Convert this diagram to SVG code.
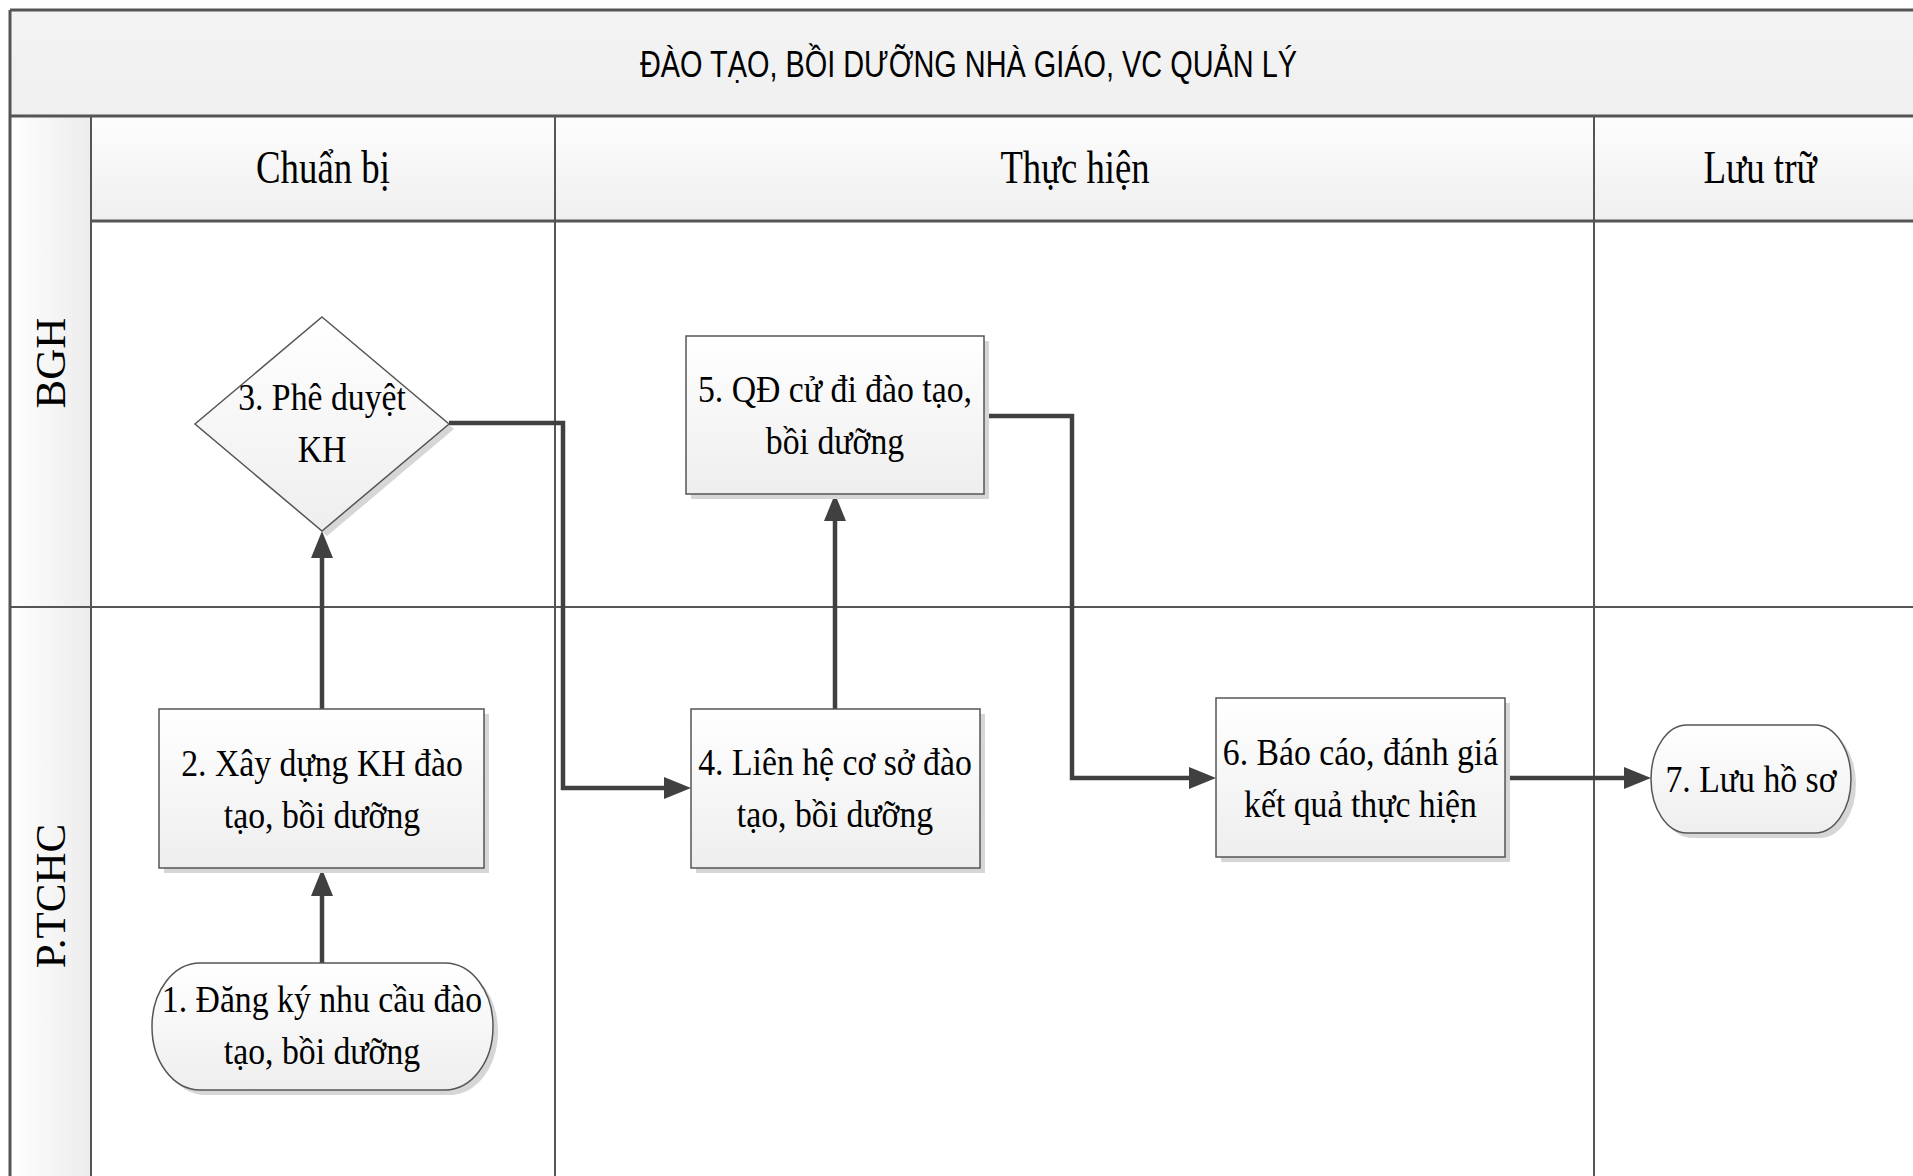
<svg xmlns="http://www.w3.org/2000/svg" width="1913" height="1176" viewBox="0 0 1913 1176">
<style>
.lane{stroke:#555;stroke-width:2;fill:none}
.thick{stroke:#555;stroke-width:3;fill:none}
.node{stroke:#555;stroke-width:1.5;fill:url(#nodeGrad)}
.shadow{fill:#d6d6d6}
.t{font-family:"Liberation Serif","Times New Roman",serif;font-size:37.5px;fill:#000;text-anchor:middle}
.hdr{font-family:"Liberation Serif","Times New Roman",serif;font-size:47px;fill:#000;text-anchor:middle}
.lbl{font-family:"Liberation Serif","Times New Roman",serif;font-size:43px;fill:#000;text-anchor:middle}
.title{font-family:"Liberation Sans",Arial,sans-serif;font-size:36px;fill:#000}
.conn{stroke:#404040;stroke-width:4.5;fill:none}
</style>
<defs>
<linearGradient id="nodeGrad" x1="0" y1="0" x2="0" y2="1">
<stop offset="0" stop-color="#ffffff"/>
<stop offset="1" stop-color="#eeeeee"/>
</linearGradient>
<linearGradient id="hdrGrad" x1="0" y1="0" x2="0" y2="1">
<stop offset="0" stop-color="#fdfdfd"/>
<stop offset="1" stop-color="#efefef"/>
</linearGradient>
<linearGradient id="titleGrad" x1="0" y1="0" x2="0" y2="1">
<stop offset="0" stop-color="#f3f3f3"/>
<stop offset="1" stop-color="#f0f0f0"/>
</linearGradient>
<linearGradient id="stripGrad" x1="0" y1="0" x2="1" y2="0">
<stop offset="0" stop-color="#ffffff"/>
<stop offset="1" stop-color="#ececec"/>
</linearGradient>
<marker id="arrow" markerUnits="userSpaceOnUse" markerWidth="27" markerHeight="22" refX="16" refY="11" orient="auto">
<path d="M0,0 L27,11 L0,22 Z" fill="#404040"/>
</marker>
</defs>
<rect width="1913" height="1176" fill="#ffffff"/>

<g id="swimlanes">
<rect x="10" y="10" width="1910" height="106" fill="url(#titleGrad)"/>
<rect x="91" y="116" width="1830" height="105" fill="url(#hdrGrad)"/>
<rect x="10" y="116" width="81" height="1070" fill="url(#stripGrad)"/>
<line class="thick" x1="10" y1="10" x2="1913" y2="10"/>
<line class="thick" x1="10" y1="10" x2="10" y2="1176"/>
<line class="thick" x1="10" y1="116" x2="1913" y2="116"/>
<line class="thick" x1="91" y1="221" x2="1913" y2="221"/>
<line class="lane" x1="91" y1="116" x2="91" y2="1176"/>
<line class="lane" x1="555" y1="116" x2="555" y2="1176"/>
<line class="lane" x1="1594" y1="116" x2="1594" y2="1176"/>
<line class="lane" x1="10" y1="607" x2="1913" y2="607"/>
<text class="title" x="640" y="77" textLength="657" lengthAdjust="spacingAndGlyphs">ĐÀO TẠO, BỒI DƯỠNG NHÀ GIÁO, VC QUẢN LÝ</text>
<text class="hdr" x="323" y="183" textLength="134" lengthAdjust="spacingAndGlyphs">Chuẩn bị</text>
<text class="hdr" x="1075" y="183" textLength="149" lengthAdjust="spacingAndGlyphs">Thực hiện</text>
<text class="hdr" x="1760" y="183" textLength="113" lengthAdjust="spacingAndGlyphs">Lưu trữ</text>
<text class="lbl" transform="translate(65,363) rotate(-90)" x="0" y="0">BGH</text>
<text class="lbl" transform="translate(65,896) rotate(-90)" x="0" y="0">P.TCHC</text>
</g>

<g id="connectors">
<path class="conn" d="M322 963 V880" marker-end="url(#arrow)"/>
<path class="conn" d="M322 709 V542" marker-end="url(#arrow)"/>
<path class="conn" d="M449 423 H563 V788 H680" marker-end="url(#arrow)"/>
<path class="conn" d="M835 709 V505" marker-end="url(#arrow)"/>
<path class="conn" d="M984 416 H1072 V778 H1205" marker-end="url(#arrow)"/>
<path class="conn" d="M1505 778 H1640" marker-end="url(#arrow)"/>
</g>

<g id="node1">
<rect class="shadow" x="157" y="968" width="341" height="127" rx="48" ry="63"/>
<rect class="node" x="152" y="963" width="341" height="127" rx="48" ry="63"/>
<g transform="translate(322,0) scale(0.9,1)">
<text class="t" x="0" y="1012">1. Đăng ký nhu cầu đào</text>
<text class="t" x="0" y="1064">tạo, bồi dưỡng</text>
</g>
</g>

<g id="node2">
<rect class="shadow" x="164" y="714" width="325" height="159"/>
<rect class="node" x="159" y="709" width="325" height="159"/>
<g transform="translate(322,0) scale(0.9,1)">
<text class="t" x="0" y="776">2. Xây dựng KH đào</text>
<text class="t" x="0" y="828">tạo, bồi dưỡng</text>
</g>
</g>

<g id="node3">
<polygon class="shadow" points="327,322 454,429 327,536 200,429"/>
<polygon class="node" points="322,317 449,424 322,531 195,424"/>
<g transform="translate(322,0) scale(0.9,1)">
<text class="t" x="0" y="410">3. Phê duyệt</text>
<text class="t" x="0" y="462">KH</text>
</g>
</g>

<g id="node4">
<rect class="shadow" x="696" y="714" width="289" height="159"/>
<rect class="node" x="691" y="709" width="289" height="159"/>
<g transform="translate(835,0) scale(0.9,1)">
<text class="t" x="0" y="775">4. Liên hệ cơ sở đào</text>
<text class="t" x="0" y="827">tạo, bồi dưỡng</text>
</g>
</g>

<g id="node5">
<rect class="shadow" x="691" y="341" width="298" height="158"/>
<rect class="node" x="686" y="336" width="298" height="158"/>
<g transform="translate(835,0) scale(0.9,1)">
<text class="t" x="0" y="402">5. QĐ cử đi đào tạo,</text>
<text class="t" x="0" y="454">bồi dưỡng</text>
</g>
</g>

<g id="node6">
<rect class="shadow" x="1221" y="703" width="289" height="159"/>
<rect class="node" x="1216" y="698" width="289" height="159"/>
<g transform="translate(1360.5,0) scale(0.9,1)">
<text class="t" x="0" y="765">6. Báo cáo, đánh giá</text>
<text class="t" x="0" y="817">kết quả thực hiện</text>
</g>
</g>

<g id="node7">
<rect class="shadow" x="1656" y="730" width="200" height="108" rx="36" ry="54"/>
<rect class="node" x="1651" y="725" width="200" height="108" rx="36" ry="54"/>
<g transform="translate(1751,0) scale(0.9,1)">
<text class="t" x="0" y="792">7. Lưu hồ sơ</text>
</g>
</g>
</svg>
